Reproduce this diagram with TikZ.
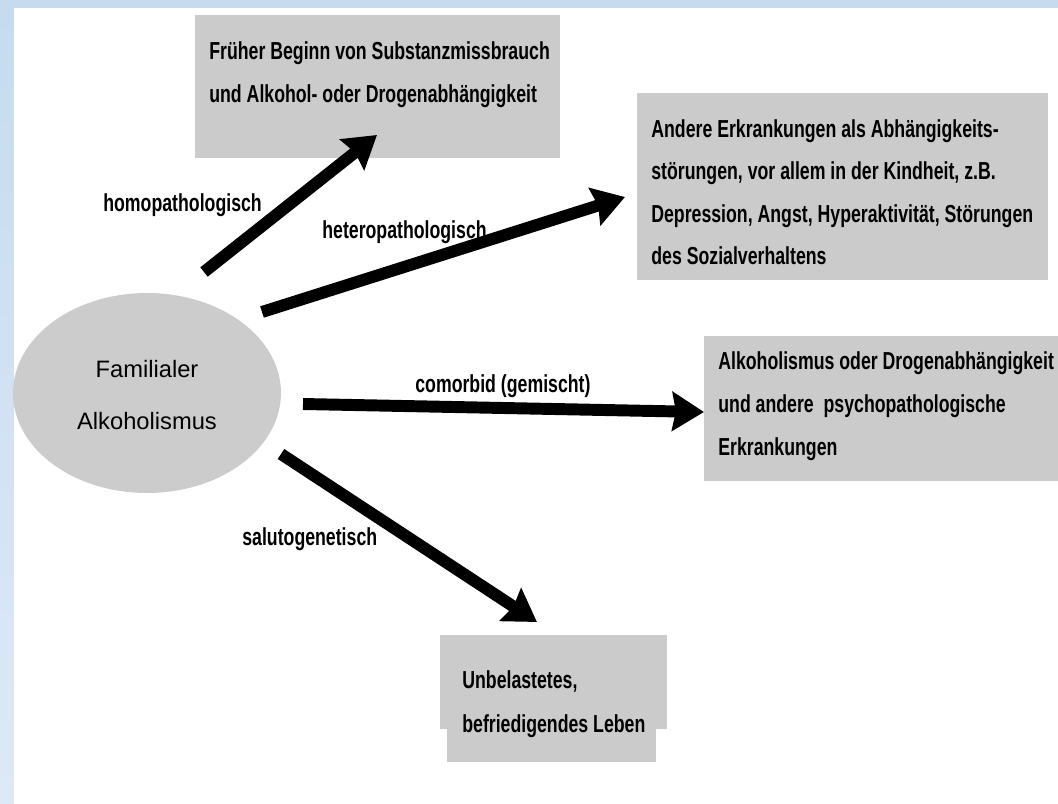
\documentclass[tikz,border=0pt]{standalone}
\usepackage{fontspec}
\setmainfont{Liberation Sans}
\newfontfamily\condfont[FakeStretch=0.72]{Liberation Sans}
\usetikzlibrary{arrows.meta,shapes.geometric}
\definecolor{boxgray}{HTML}{CBCBCB}
\definecolor{ellgray}{HTML}{CCCCCC}
\definecolor{bgtop}{HTML}{C6DBF0}
\definecolor{bgbot}{HTML}{DDE9F6}
\begin{document}
\begin{tikzpicture}[x=0.02cm,y=-0.02cm,
  boxfill/.style={fill=boxgray, draw=none, inner sep=0pt, outer sep=0pt, anchor=north west},
  txt/.style={anchor=base west, inner sep=0pt, font=\condfont\bfseries\fontsize{14}{24}\selectfont},
  elltxt/.style={anchor=base, inner sep=0pt, font=\fontsize{13.5}{24}\selectfont},
  bigarrow/.style={line width=6.8pt, -{Stealth[length=18pt,width=22pt,inset=2pt]}},
]
% background
\shade[top color=bgtop, bottom color=bgbot] (0,0) rectangle (1058,804);
\fill[white] (14,8) rectangle (1058,804);
\useasboundingbox (0,0) rectangle (1058,804);

% boxes
\node[boxfill, minimum width=7.30cm, minimum height=2.86cm] (b1) at (195,15) {};
\node[boxfill, minimum width=8.22cm, minimum height=3.74cm] (b2) at (637,93) {};
\node[boxfill, minimum width=7.08cm, minimum height=2.90cm] (b3) at (704,336) {};
\node[boxfill, minimum width=4.54cm, minimum height=1.88cm] (b4a) at (440,635) {};
\node[boxfill, minimum width=4.18cm, minimum height=2.54cm] (b4b) at (447,635) {};

% ellipse
\node[ellipse, fill=ellgray, inner sep=0pt, minimum width=5.36cm, minimum height=4.0cm] (fam) at (147,393) {};
\node[elltxt] (famA) at (147,377) {Familialer};
\node[elltxt] (famB) at (147,429) {Alkoholismus};

% box texts
\node[txt] (t1a) at (209,60) {Früher Beginn von Substanzmissbrauch};
\node[txt] (t1b) at (209,103) {und Alkohol- oder Drogenabhängigkeit};

\node[txt] (t2a) at (651,138) {Andere Erkrankungen als Abhängigkeits-};
\node[txt] (t2b) at (651,180) {störungen, vor allem in der Kindheit, z.B.};
\node[txt] (t2c) at (651,223) {Depression, Angst, Hyperaktivität, Störungen};
\node[txt] (t2d) at (651,265) {des Sozialverhaltens};

\node[txt] (t3a) at (718,369) {Alkoholismus oder Drogenabhängigkeit};
\node[txt] (t3b) at (718,412) {und andere\ \ psychopathologische};
\node[txt] (t3c) at (718,455) {Erkrankungen};

\node[txt] (t4a) at (462,688) {Unbelastetes,};
\node[txt] (t4b) at (462,732) {befriedigendes Leben};

% arrow labels
\node[txt] (l1) at (103,212) {homopathologisch};
\node[txt] (l2) at (322,238) {heteropathologisch};
\node[txt] (l3) at (415,392) {comorbid (gemischt)};
\node[txt] (l4) at (242,545) {salutogenetisch};

% arrows
\coordinate (s1) at (204,272); \coordinate (e1) at (377,135);
\coordinate (s2) at (262,312); \coordinate (e2) at (625,197);
\coordinate (s3) at (303,404); \coordinate (e3) at (704,412);
\coordinate (s4) at (281,454); \coordinate (e4) at (537,622);
\draw[bigarrow] (s1) -- (e1);
\draw[bigarrow] (s2) -- (e2);
\draw[bigarrow] (s3) -- (e3);
\draw[bigarrow] (s4) -- (e4);
\end{tikzpicture}
\end{document}
